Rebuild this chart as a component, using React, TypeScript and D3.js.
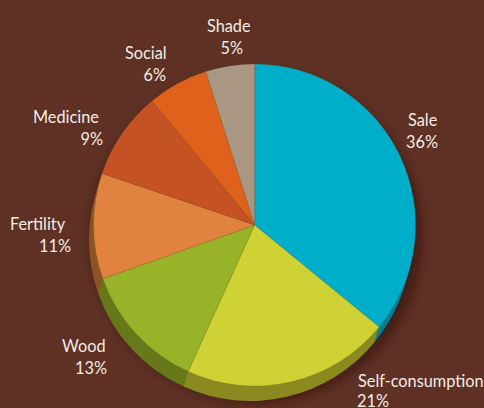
import React from "react";
import * as d3 from "d3";

const categories = ["Sale", "Self-consumption", "Wood", "Fertility", "Medicine", "Social", "Shade"];
const values = [35.9, 20.85, 12.8, 10.6, 8.8, 6.1, 4.9];
const percentLabels = ["36%", "21%", "13%", "11%", "9%", "6%", "5%"];
const topColors = ["#00aeca", "#cfd235", "#99b328", "#e08240", "#c55225", "#df611c", "#a99784"];
const sideColors = ["#0b7d93", "#8a8a20", "#67791a", "#8c5524", "#7f4220", "#7f4220", "#6e5a48"];
const nameStarts = [408, 358, 62, 10, 33, 125, 207];
const percentEnds = [438, 389, 107, 71, 103, 166, 243];
const nameBaselines = [126, 387, 352, 230, 123, 59, 32];
const percentBaselines = [148, 407, 374, 252, 145, 81, 54];

const W = 484, H = 408, CX = 254.6, CY = 225, R = 161;
const DEPTH = d3.range(15, 0, -1);

export default function App() {
  const pie = d3.pie<number>().sort(null).value((d) => d);
  const arcs = pie(values);
  const arc = d3.arc<d3.PieArcDatum<number>>().innerRadius(0).outerRadius(R);
  return (
    <svg width={W} height={H} viewBox={`0 0 ${W} ${H}`}
      style={{ position: "absolute", left: 0, top: 0, background: "#5e3124" }}>
      <defs>
        <filter id="sh" x="-20%" y="-20%" width="140%" height="140%">
          <feGaussianBlur stdDeviation="7" />
        </filter>
      </defs>
      <circle cx={CX + 2} cy={CY + 12} r={R + 1} fill="#2c0f08" opacity={0.8} filter="url(#sh)" />
      {DEPTH.map((z) => (
        <g key={z} transform={`translate(${CX - z * 0.3},${CY + z})`}>
          {arcs.map((a, i) => (
            <path key={i} d={arc(a) as string} fill={sideColors[i]} />
          ))}
        </g>
      ))}
      <g transform={`translate(${CX},${CY})`}>
        {arcs.map((a, i) => (
          <path key={i} d={arc(a) as string} fill={topColors[i]} stroke="#5a4a20" strokeOpacity={0.35} strokeWidth={0.5} />
        ))}
      </g>
      <g fontFamily="Lato, sans-serif" fontSize={16.3} fill="#f3ece6">
        {categories.map((c, i) => (
          <g key={c}>
            <text x={nameStarts[i]} y={nameBaselines[i]}>{c}</text>
            <text x={percentEnds[i]} y={percentBaselines[i]} textAnchor="end">{percentLabels[i]}</text>
          </g>
        ))}
      </g>
    </svg>
  );
}
